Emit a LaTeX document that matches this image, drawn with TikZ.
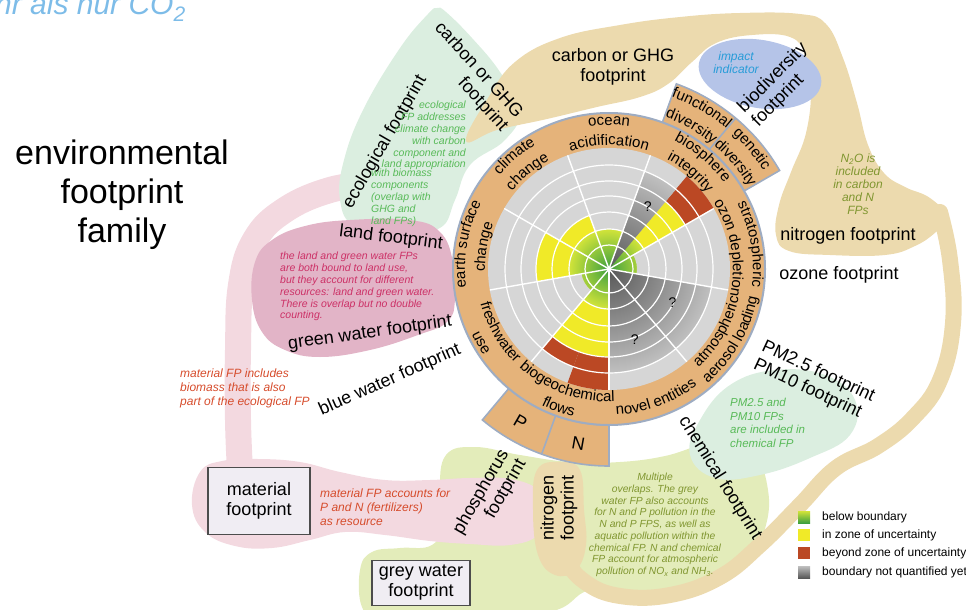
\documentclass[tikz,border=0pt]{standalone}
\usepackage{fontspec}
\setmainfont{Liberation Sans}
\usetikzlibrary{decorations.text}

\definecolor{ringorange}{RGB}{229,179,122}
\definecolor{ringedge}{RGB}{158,172,194}
\definecolor{discgrey}{RGB}{214,214,214}
\definecolor{zoneyellow}{RGB}{240,234,40}
\definecolor{zonered}{RGB}{187,72,36}
\definecolor{coregreen}{RGB}{62,160,62}
\definecolor{edgegreen}{RGB}{210,228,58}
\definecolor{qdark}{RGB}{88,88,88}
\definecolor{qlight}{RGB}{192,192,192}
\definecolor{tanfp}{RGB}{236,218,174}
\definecolor{mintfp}{RGB}{219,238,224}
\definecolor{pinkfp}{RGB}{243,217,224}
\definecolor{rosefp}{RGB}{226,180,199}
\definecolor{limefp}{RGB}{227,236,186}
\definecolor{bluefp}{RGB}{181,196,232}
\definecolor{notegreen}{RGB}{88,186,88}
\definecolor{notepink}{RGB}{204,48,102}
\definecolor{notered}{RGB}{214,76,44}
\definecolor{noteolive}{RGB}{128,150,48}
\definecolor{noteblue}{RGB}{40,156,216}
\definecolor{titleblue}{RGB}{125,188,232}
\definecolor{boxfill}{RGB}{240,237,243}

\newcommand{\ringfont}{\fontsize{15}{15}\selectfont}
% annular piece: fill, inner r, outer r, from angle, to angle
\newcommand{\ringsector}[5]{%
  \fill[#1] (#4:#2) arc[start angle=#4, end angle=#5, radius=#2]
    -- (#5:#3) arc[start angle=#5, end angle=#4, radius=#3] -- cycle;}

\begin{document}
\begin{tikzpicture}[
    x=1pt, y=-1pt,
    fp/.style={font=\fontsize{18}{20}\selectfont, align=center, inner sep=0pt},
    note/.style={font=\fontsize{10.5}{11.8}\selectfont\itshape, inner sep=0pt},
    rednote/.style={note, font=\fontsize{12}{13.7}\selectfont\itshape, text=notered, align=left},
    fpbox/.style={fp, draw=black!70, line width=1.4pt, fill=boxfill},
    legend/.style={font=\fontsize{12}{12}\selectfont, inner sep=0pt, anchor=west},
    qmark/.style={font=\fontsize{14}{14}\selectfont, inner sep=0pt},
    blob/.style={smooth cycle, tension=0.7},
    band/.style={line width=#1, line cap=round, line join=round},
    ringlabel/.style={decorate, decoration={text along path, text align=center, text={|\ringfont|#1}}}
  ]
  \useasboundingbox (0,0) rectangle (966,610);
  \clip (0,0) rectangle (966,610);

  % grey water region
  \fill[limefp] plot[blob] coordinates {(362,607) (360,570) (372,552) (400,548) (432,545)
    (445,520) (440,490) (446,455) (475,447) (520,455) (570,462) (620,462) (665,456)
    (700,445) (725,440) (755,455) (768,490) (766,525) (752,552) (725,572) (690,585)
    (640,592) (590,590) (548,612) (450,614) (380,614)};

  % material footprint: band from the ecological FP and blob
  \draw[pinkfp, band=26pt] plot[smooth, tension=0.7] coordinates {(372,184) (330,190)
    (285,210) (255,240) (241,285) (238,350) (238,420) (240,470)};
  \fill[pinkfp] plot[blob] coordinates {(200,472) (222,461) (258,459) (300,462) (340,472)
    (385,480) (430,480) (470,478) (510,479) (538,490) (546,512) (538,535) (510,545)
    (470,544) (430,541) (385,535) (345,532) (310,540) (272,548) (235,546) (205,532) (192,505)};

  % ecological footprint
  \fill[mintfp] plot[blob] coordinates {(437,8) (446,12) (472,38) (500,72) (520,110) (505,140)
    (470,165) (455,200) (440,228) (400,232) (355,226) (340,200) (344,160) (364,108) (400,48) (428,14)};

  % land and green water
  \fill[rosefp] plot[blob] coordinates {(255,262) (272,240) (305,226) (350,220) (410,220)
    (440,232) (453,262) (455,300) (447,322) (418,335) (370,350) (320,357) (285,350)
    (262,332) (252,300)};

  % carbon and nitrogen footprints
  \fill[tanfp] plot[blob] coordinates {(466,141) (497,130) (547,119) (597,107) (640,97)
    (668,84) (692,62) (716,43) (752,35) (790,37) (805,55) (811,88) (806,133) (791,172)
    (779,205) (776,235) (789,251) (830,255) (885,255) (915,246) (936,232) (948,218)
    (930,198) (905,187) (884,173) (868,145) (857,103) (843,58) (826,24) (800,14)
    (740,13) (680,17) (620,25) (560,38) (515,62) (488,98)};
  \draw[tanfp, band=16pt] plot[smooth, tension=0.7] coordinates {(940,212) (950,260)
    (953,323) (940,380) (913,418) (878,446) (836,468) (800,505) (760,545) (720,577)
    (670,595) (620,596) (585,582) (565,557) (558,525) (556,490)};
  \fill[tanfp] plot[blob] coordinates {(537,470) (560,462) (580,470) (584,510) (586,545)
    (576,570) (555,575) (538,555) (533,510)};

  % PM footprints
  \fill[mintfp] plot[blob] coordinates {(690,455) (700,420) (730,385) (775,370) (825,375)
    (855,400) (850,435) (810,458) (760,475) (715,478)};

  % biodiversity
  \fill[bluefp, rotate around={-10:(760,74)}] (760,74) ellipse[x radius=62, y radius=34];

  % planetary boundaries wheel
  \begin{scope}[shift={(609,269)}, y=1pt]
    \filldraw[fill=ringorange, draw=ringedge, line width=1.6pt] (30:156)
      arc[start angle=30, end angle=70, radius=156] -- (70:197)
      arc[start angle=70, end angle=30, radius=197] -- cycle;
    \draw[ringedge, line width=1.6pt] (50:156) -- (50:197);
    \filldraw[fill=ringorange, draw=ringedge, line width=1.6pt] (-130:156)
      arc[start angle=-130, end angle=-90, radius=156] -- (-90:197)
      arc[start angle=-90, end angle=-130, radius=197] -- cycle;
    \draw[ringedge, line width=1.6pt] (-110:156) -- (-110:197);
    \filldraw[fill=ringorange, draw=ringedge, line width=2pt] (0,0) circle (156);
    \fill[discgrey] (0,0) circle (121);

    % below boundary
    \shade[inner color=coregreen, outer color=edgegreen] (0,0) circle (40);
    \ringsector{discgrey}{28}{40}{-10}{30}
    \ringsector{discgrey}{28}{40}{-170}{-130}

    % zone of uncertainty and beyond
    \ringsector{zoneyellow}{40}{57}{110}{150}
    \ringsector{zoneyellow}{40}{73}{150}{190}
    \ringsector{zoneyellow}{40}{88}{30}{50}
    \ringsector{zoneyellow}{40}{88}{-130}{-90}
    \ringsector{zonered}{88}{121}{30}{50}
    \ringsector{zonered}{88}{121}{-110}{-90}
    \ringsector{zonered}{88}{104}{-130}{-110}

    % not quantified
    \begin{scope}
      \clip (0,0) -- (50:104) arc[start angle=50, end angle=70, radius=104] -- cycle;
      \shade[inner color=qdark, outer color=qlight] (0,0) circle (104);
    \end{scope}
    \begin{scope}
      \clip (0,0) -- (-90:104) arc[start angle=-90, end angle=-10, radius=104] -- cycle;
      \shade[inner color=qdark, outer color=qlight] (0,0) circle (104);
    \end{scope}

    % grid
    \foreach \r in {24,40,57,73,88,104}
      \draw[white, line width=1.2pt] (0,0) circle (\r);
    \foreach \a in {-170,-130,...,150}
      \draw[white, line width=1.4pt] (0,0) -- (\a:121);

    \node[qmark] (qfun) at (58:73) {?};
    \node[qmark] (qaer) at (-28:72) {?};
    \node[qmark] (qnov) at (-70:75) {?};

    % labels on the ring
    \path[ringlabel=ocean] (125:144) arc[start angle=125, end angle=55, radius=144];
    \path[ringlabel=acidification] (125:124) arc[start angle=125, end angle=55, radius=124];
    \path[ringlabel=climate] (165:144) arc[start angle=165, end angle=95, radius=144];
    \path[ringlabel=change] (165:124) arc[start angle=165, end angle=95, radius=124];
    \path[ringlabel=biosphere] (85:144) arc[start angle=85, end angle=15, radius=144];
    \path[ringlabel=integrity] (85:124) arc[start angle=85, end angle=15, radius=124];
    \path[ringlabel=stratospheric] (45:144) arc[start angle=45, end angle=-25, radius=144];
    \path[ringlabel=ozon depletion] (45:124) arc[start angle=45, end angle=-25, radius=124];
    \path[ringlabel=earth surface] (205:144) arc[start angle=205, end angle=135, radius=144];
    \path[ringlabel=change] (205:124) arc[start angle=205, end angle=135, radius=124];
    \path[ringlabel=atmospheric] (-65:133) arc[start angle=-65, end angle=5, radius=133];
    \path[ringlabel=aerosol loading] (-65:151) arc[start angle=-65, end angle=5, radius=151];
    \path[ringlabel=novel entities] (-105:146) arc[start angle=-105, end angle=-35, radius=146];
    \path[ringlabel=biogeochemical] (-145:133) arc[start angle=-145, end angle=-75, radius=133];
    \path[ringlabel=flows] (-145:152) arc[start angle=-145, end angle=-75, radius=152];
    \path[ringlabel=freshwater] (-185:133) arc[start angle=-185, end angle=-115, radius=133];
    \path[ringlabel=use] (-185:152) arc[start angle=-185, end angle=-115, radius=152];
    \path[ringlabel=functional] (95:183) arc[start angle=95, end angle=25, radius=183];
    \path[ringlabel=diversity] (95:162) arc[start angle=95, end angle=25, radius=162];
    \path[ringlabel=genetic] (75:183) arc[start angle=75, end angle=5, radius=183];
    \path[ringlabel=diversity] (75:162) arc[start angle=75, end angle=5, radius=162];

    \node[fp, rotate=-30] (pbox) at (-120:177) {P};
    \node[fp, rotate=-10] (nbox) at (-100:177) {N};
  \end{scope}

  % title
  \node[note, text=titleblue, font=\fontsize{30}{30}\selectfont\itshape, anchor=base east]
    (co2) at (186,15) {mehr als nur CO\textsubscript{2}};
  \node[fp, font=\fontsize{34}{39}\selectfont] (family) at (122,195) {environmental\\footprint\\family};

  % upper left
  \node[fp] (carbontop) at (613,67) {carbon or GHG\\footprint};
  \node[fp, align=right, rotate=-48] (carbonside) at (471,77) {carbon or GHG\\footprint};
  \node[fp, rotate=60] (eco) at (385,142) {ecological footprint};
  \node[note, text=notegreen, align=right, anchor=north east] (econote) at (466,101)
    {ecological\\FP addresses\\climate change\\with carbon\\component and\\land appropriation};
  \node[note, text=notegreen, align=left, anchor=north west] (econotelow) at (371,169)
    {with biomass\\components\\(overlap with\\GHG and\\land FPs)};
  \node[fp, rotate=-7] (land) at (391,238) {land footprint};
  \node[note, text=notepink, align=left, anchor=north west] (landnote) at (280,252)
    {the land and green water FPs\\are both bound to land use,\\but they account for different\\resources: land and green water.\\There is overlap but no double\\counting.};
  \node[fp, rotate=8] (greenw) at (370,333) {green water footprint};
  \node[fp, rotate=24] (bluew) at (390,380) {blue water footprint};

  % lower left
  \node[rednote, anchor=north west] (matnote) at (180,369)
    {material FP includes\\biomass that is also\\part of the ecological FP};
  \node[fpbox, minimum width=102pt, minimum height=67pt] (material) at (259,501) {material\\footprint};
  \node[rednote, anchor=north west] (matnotelow) at (320,489)
    {material FP accounts for\\P and N (fertilizers)\\as resource};
  \node[fpbox, minimum width=98pt, minimum height=45pt] (greywater) at (421,583) {grey water\\footprint};
  \node[fp, align=right, rotate=60] (phos) at (490,497) {phosphorus\\footprint};
  \node[fp, rotate=90] (nitrolow) at (559,508) {nitrogen\\footprint};
  \node[note, text=noteolive, font=\fontsize{10.3}{11.75}\selectfont\itshape, align=center, anchor=north]
    (overlap) at (655,473) {Multiple\\overlaps. The grey\\water FP also accounts\\for N and P pollution in the\\N and P FPS, as well as\\aquatic pollution within the\\chemical FP. N and chemical\\FP account for atmospheric\\pollution of NO\textsubscript{x} and NH\textsubscript{3}.};
  \node[fp, rotate=-58] (chem) at (720,478) {chemical footprint};

  % right side
  \node[fp, align=left, rotate=-25] (pm) at (814,381) {PM2.5 footprint\\PM10 footprint};
  \node[note, text=notegreen, font=\fontsize{11.5}{13.7}\selectfont\itshape, align=left, anchor=north west]
    (pmnote) at (730,398) {PM2.5 and\\PM10 FPs\\are included in\\chemical FP};
  \node[fp] (ozone) at (839,275) {ozone footprint};
  \node[fp] (nitrotop) at (848,236) {nitrogen footprint};
  \node[note, text=noteolive, font=\fontsize{12}{13}\selectfont\itshape, align=center, anchor=north]
    (n2o) at (858,154) {N\textsubscript{2}O is\\included\\in carbon\\and N\\FPs};
  \node[note, text=noteblue, font=\fontsize{12}{13}\selectfont\itshape, align=center] (impact) at (736,63) {impact\\indicator};
  \node[fp, align=left, rotate=45] (bio) at (780,85) {biodiversity\\footprint};

  % legend
  \shade[top color=edgegreen, bottom color=coregreen] (798,511) rectangle (810,523);
  \fill[zoneyellow] (798,529) rectangle (810,541);
  \fill[zonered] (798,547) rectangle (810,559);
  \shade[top color=qlight, bottom color=qdark] (798,566) rectangle (810,578);
  \node[legend] (legbelow) at (822,517) {below boundary};
  \node[legend] (legzone) at (822,535) {in zone of uncertainty};
  \node[legend] (legbeyond) at (822,553) {beyond zone of uncertainty};
  \node[legend] (legnone) at (822,572) {boundary not quantified yet};
\end{tikzpicture}
\end{document}
